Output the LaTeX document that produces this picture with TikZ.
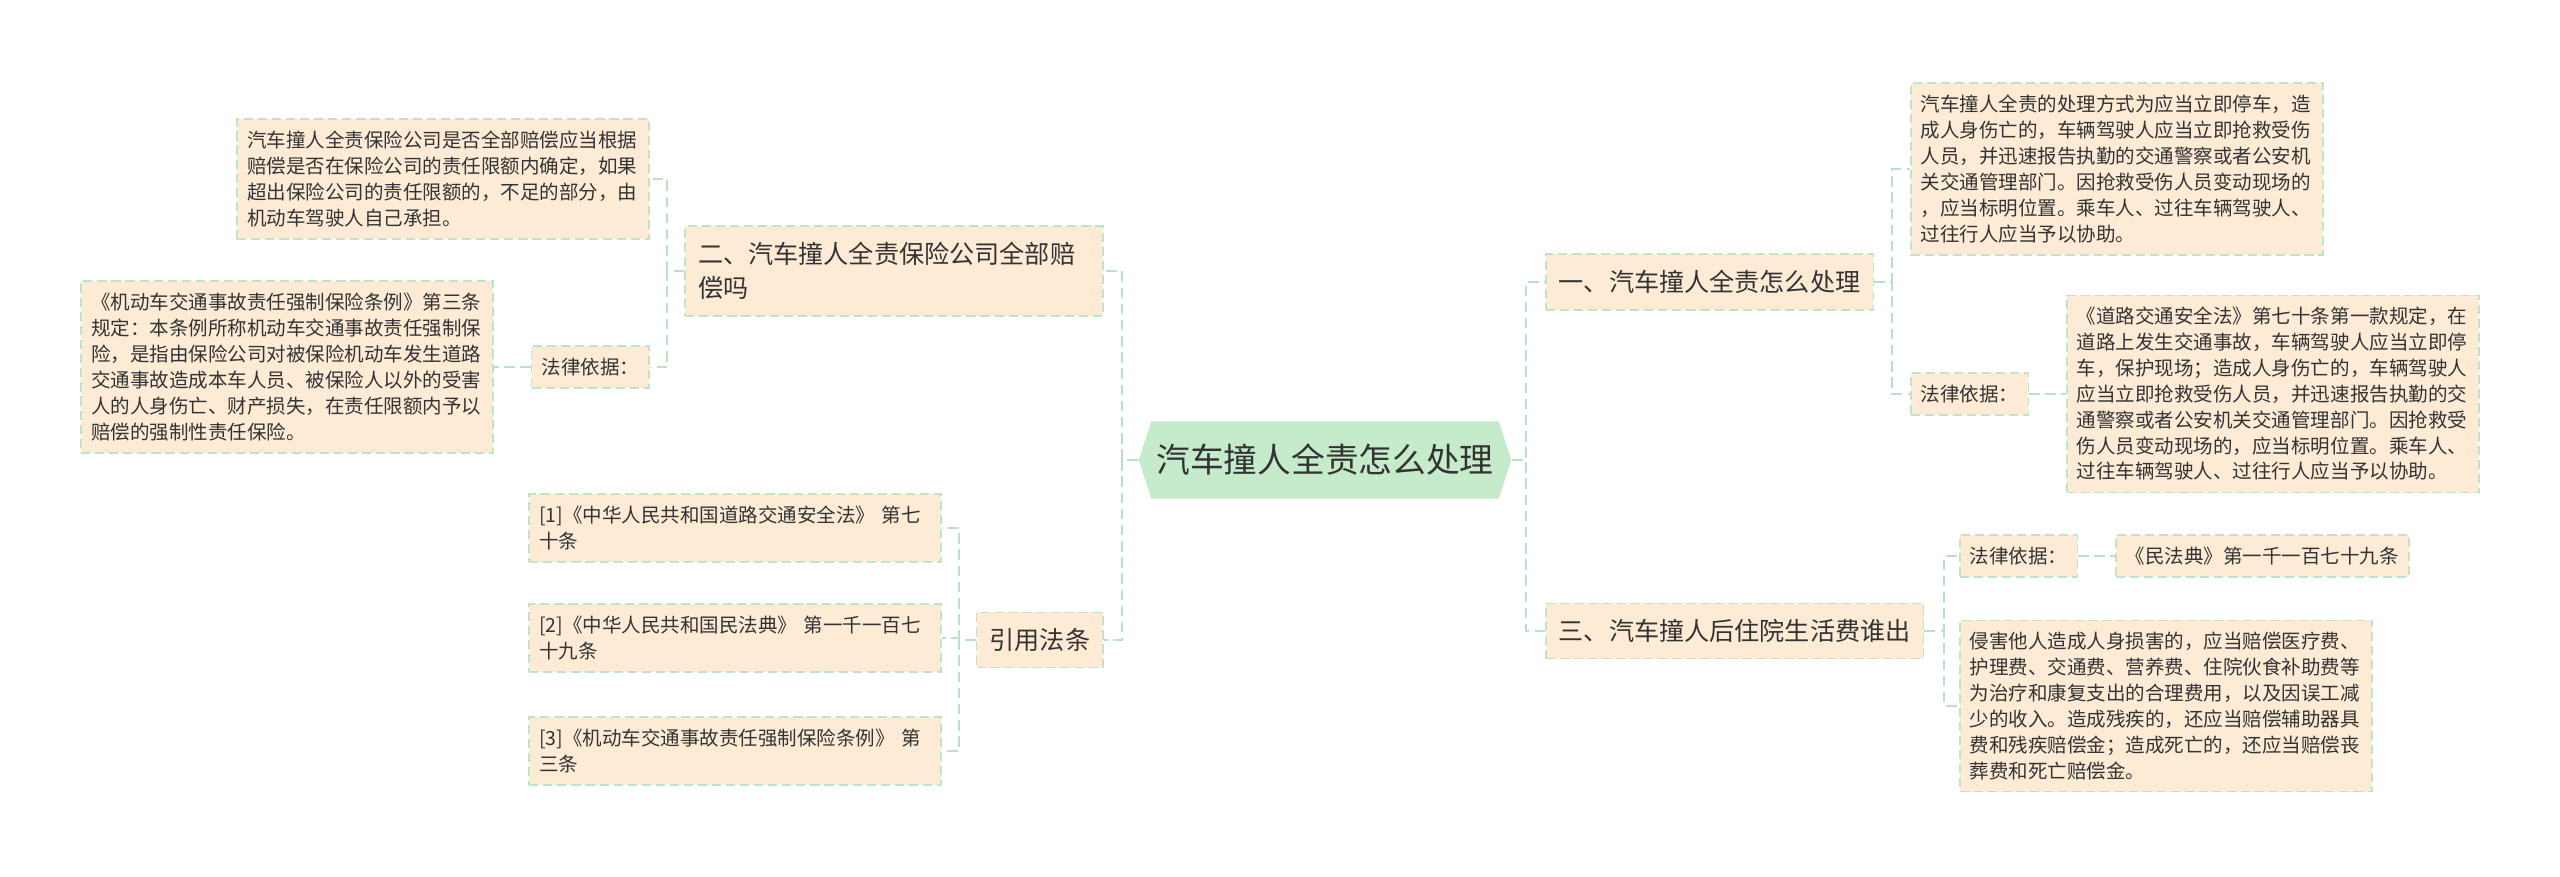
\documentclass[tikz,border=0pt]{standalone}
\usepackage{fontspec}
\usepackage{tikz}
\usetikzlibrary{positioning, shapes.symbols}
\newfontfamily\cjk{Noto Sans CJK SC}
\definecolor{boxfill}{HTML}{FDEBD6}
\definecolor{boxline}{HTML}{BFE5C8}
\definecolor{linkgreen}{HTML}{B8E2C2}
\definecolor{topicfill}{HTML}{C5EBCB}
\definecolor{ink}{HTML}{333333}

\begin{document}
\begin{tikzpicture}[
      x=0.1mm, y=-0.1mm,
      box/.style={
        draw=boxline,
        dash pattern=on 2.6pt off 1.4pt,
        line width=0.45pt,
        fill=boxfill,
        text=ink,
        align=left
      },
      note/.style={box, text width=39.2mm, inner xsep=1mm, inner ysep=1.2mm,
        font=\cjk\fontsize{5.55pt}{7.35pt}\selectfont},
      tag/.style={box, inner xsep=1mm, inner ysep=1.2mm,
        font=\cjk\fontsize{5.55pt}{7.35pt}\selectfont},
      branch/.style={box, inner xsep=1.3mm, inner ysep=1.6mm,
        font=\cjk\fontsize{7.15pt}{9.7pt}\selectfont},
      topic/.style={
        signal, signal to=west and east, signal pointer angle=144,
        fill=topicfill, text=ink, inner xsep=0.5mm, inner ysep=2.3mm,
        font=\cjk\fontsize{9.6pt}{11pt}\selectfont
      },
      link/.style={draw=linkgreen, line width=0.55pt, dash pattern=on 3pt off 1.6pt},
      node distance=3.7mm
    ]
    \useasboundingbox (0,0) rectangle (2560,877);

    \node[topic] (root) at (1325,460) {汽车撞人全责怎么处理};

    \node[branch, anchor=west] (handle) at (1545,282) {一、汽车撞人全责怎么处理};
    \node[branch, anchor=west] (living) at (1545,631) {三、汽车撞人后住院生活费谁出};
    \node[branch, anchor=east, text width=39.2mm] (insure) at (1104,271) {
      二、汽车撞人全责保险公司全部赔\\偿吗};
    \node[branch, anchor=east] (cite) at (1104,640) {引用法条};

    \node[note, anchor=west] (handletext) at (1910,169) {
      汽车撞人全责的处理方式为应当立即停车，造\\
      成人身伤亡的，车辆驾驶人应当立即抢救受伤\\
      人员，并迅速报告执勤的交通警察或者公安机\\
      关交通管理部门。因抢救受伤人员变动现场的\\
      ，应当标明位置。乘车人、过往车辆驾驶人、\\
      过往行人应当予以协助。};
    \node[tag, anchor=west] (handlebasis) at (1910,394) {法律依据：};
    \node[note, right=of handlebasis] (handlelaw) {
      《道路交通安全法》第七十条第一款规定，在\\
      道路上发生交通事故，车辆驾驶人应当立即停\\
      车，保护现场；造成人身伤亡的，车辆驾驶人\\
      应当立即抢救受伤人员，并迅速报告执勤的交\\
      通警察或者公安机关交通管理部门。因抢救受\\
      伤人员变动现场的，应当标明位置。乘车人、\\
      过往车辆驾驶人、过往行人应当予以协助。};

    \node[tag, anchor=west] (livingbasis) at (1959,556) {法律依据：};
    \node[tag, right=of livingbasis] (livinglaw) {《民法典》第一千一百七十九条};
    \node[note, anchor=west] (livingtext) at (1959,706) {
      侵害他人造成人身损害的，应当赔偿医疗费、\\
      护理费、交通费、营养费、住院伙食补助费等\\
      为治疗和康复支出的合理费用，以及因误工减\\
      少的收入。造成残疾的，还应当赔偿辅助器具\\
      费和残疾赔偿金；造成死亡的，还应当赔偿丧\\
      葬费和死亡赔偿金。};

    \node[note, anchor=east] (insuretext) at (650,179) {
      汽车撞人全责保险公司是否全部赔偿应当根据\\
      赔偿是否在保险公司的责任限额内确定，如果\\
      超出保险公司的责任限额的，不足的部分，由\\
      机动车驾驶人自己承担。};
    \node[tag, anchor=east] (insurebasis) at (650,367) {法律依据：};
    \node[note, left=of insurebasis] (insurelaw) {
      《机动车交通事故责任强制保险条例》第三条\\
      规定：本条例所称机动车交通事故责任强制保\\
      险，是指由保险公司对被保险机动车发生道路\\
      交通事故造成本车人员、被保险人以外的受害\\
      人的人身伤亡、财产损失，在责任限额内予以\\
      赔偿的强制性责任保险。};

    \node[note, anchor=east] (citeone) at (942,528) {
      [1]《中华人民共和国道路交通安全法》 第七\\十条};
    \node[note, anchor=east] (citetwo) at (942,638) {
      [2]《中华人民共和国民法典》 第一千一百七\\十九条};
    \node[note, anchor=east] (citethree) at (942,751) {
      [3]《机动车交通事故责任强制保险条例》 第\\三条};

    \foreach \n in {handle, living}
      \draw[link] (root.east) -- ++(14,0) |- (\n.west);
    \foreach \n in {insure, cite}
      \draw[link] (root.west) -- ++(-16,0) |- (\n.east);
    \foreach \n in {handletext, handlebasis}
      \draw[link] (handle.east) -- ++(18,0) |- (\n.west);
    \foreach \n in {livingbasis, livingtext}
      \draw[link] (living.east) -- ++(20,0) |- (\n.west);
    \foreach \n in {insuretext, insurebasis}
      \draw[link] (insure.west) -- ++(-17,0) |- (\n.east);
    \foreach \n in {citeone, citetwo, citethree}
      \draw[link] (cite.west) -- ++(-17,0) |- (\n.east);
    \draw[link] (handlebasis) -- (handlelaw);
    \draw[link] (livingbasis) -- (livinglaw);
    \draw[link] (insurebasis) -- (insurelaw);
  \end{tikzpicture}
\end{document}
